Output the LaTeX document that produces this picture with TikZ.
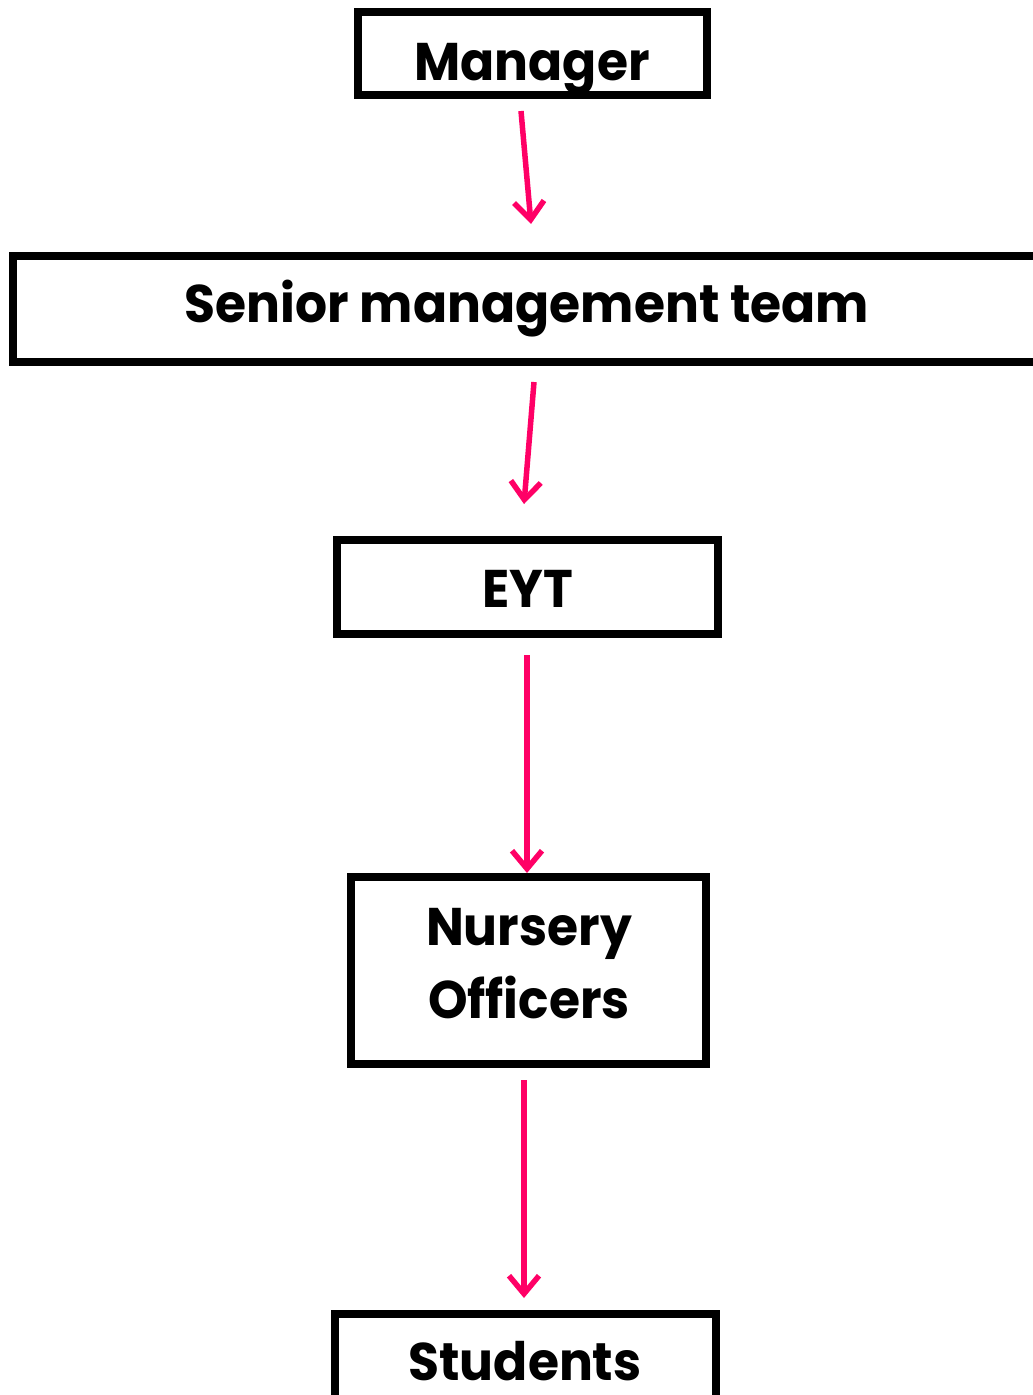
\documentclass[tikz,border=0pt]{standalone}
\usepackage{fontspec}
\setmainfont{Poppins}
\usetikzlibrary{arrows.meta}
\definecolor{arrowpink}{RGB}{255,0,102}
\newcommand{\boxtext}[1]{\scalebox{0.95}[1]{#1}}
\begin{document}
\begin{tikzpicture}[x=1pt,y=-1pt,
  box/.style={draw=black,line width=8pt,inner sep=0pt},
  lbl/.style={anchor=base,inner sep=0pt,font=\fontsize{53}{60}\selectfont\bfseries},
  link/.style={draw=arrowpink,line width=5.5pt,-{Straight Barb[length=18pt,width=30pt]}}]
\useasboundingbox (0,0) rectangle (1033,1395);
\node[box,minimum width=349pt,minimum height=83pt] (mgr) at (532.5,53.5) {};
\node[box,minimum width=1032pt,minimum height=106pt] (smt) at (529,309) {};
\node[box,minimum width=381pt,minimum height=94pt] (eyt) at (527.5,587) {};
\node[box,minimum width=355pt,minimum height=187pt] (nof) at (528.5,970.5) {};
\node[box,minimum width=381pt,minimum height=116pt] (stu) at (525.5,1372) {};
\node[lbl] (tmgr) at (532,80) {\boxtext{Manager}};
\node[lbl] (tsmt) at (527,322) {\boxtext{Senior management team}};
\node[lbl] (teyt) at (528,607) {\boxtext{EYT}};
\node[lbl] (tnof1) at (529,945) {\boxtext{Nursery}};
\node[lbl] (tnof2) at (529,1018) {\boxtext{Officers}};
\node[lbl] (tstu) at (525,1380) {\boxtext{Students}};
\draw[link] ([xshift=-11.5pt,yshift=-12pt]mgr.south) -- ([xshift=2pt,yshift=28pt]smt.north);
\draw[link] ([xshift=5pt,yshift=-16pt]smt.south) -- ([xshift=-3.5pt,yshift=32pt]eyt.north);
\draw[link] ([xshift=-0.5pt,yshift=-17pt]eyt.south) -- ([xshift=-1.5pt,yshift=0pt]nof.north);
\draw[link] ([xshift=-4.5pt,yshift=-12pt]nof.south) -- ([xshift=-1.5pt,yshift=12pt]stu.north);
\end{tikzpicture}
\end{document}
